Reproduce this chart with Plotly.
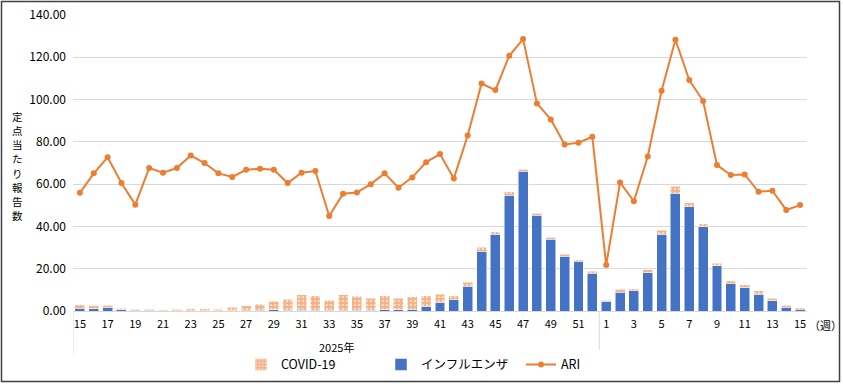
import plotly.graph_objects as go

weeks = [str(w) for w in range(15, 53)] + [str(w) for w in range(1, 16)]

influenza = [1.2, 1.0, 1.6, 0.6, 0.4, 0.3, 0.2, 0.2, 0.2, 0.2,
             0.2, 0.2, 0.3, 0.3, 0.6, 0.3, 0.3, 0.3, 0.3, 0.3,
             0.3, 0.3, 0.6, 0.6, 0.9, 2.0, 3.8, 5.4, 11.7, 28.2,
             36.2, 54.8, 66.0, 45.4, 34.0, 26.0, 23.5, 17.8,
             4.5, 8.8, 9.6, 18.0, 36.2, 55.8, 49.3, 39.8, 21.3, 12.8,
             10.9, 7.9, 4.9, 1.7, 0.9]

covid = [1.8, 1.4, 1.2, 0.8, 0.4, 0.6, 0.4, 0.7, 0.9, 0.9,
         0.7, 1.5, 2.3, 3.0, 4.0, 5.2, 7.3, 6.9, 4.9, 7.3,
         6.6, 5.7, 6.6, 5.5, 5.9, 5.1, 4.1, 1.8, 1.8, 1.9,
         1.4, 1.5, 1.1, 0.9, 0.8, 0.8, 0.8, 0.9,
         0.7, 1.4, 0.9, 1.4, 1.9, 3.2, 1.9, 1.5, 1.4, 1.5,
         1.5, 1.7, 1.2, 1.0, 0.7]

ari = [55.9, 65.1, 72.7, 60.5, 50.3, 67.6, 65.4, 67.6, 73.6, 70.0,
       65.1, 63.4, 66.8, 67.3, 66.8, 60.5, 65.4, 66.2, 44.9, 55.5,
       56.0, 60.0, 65.1, 58.3, 63.2, 70.4, 74.2, 62.7, 83.0, 107.6,
       104.5, 120.7, 128.6, 98.2, 90.6, 78.8, 79.6, 82.4,
       21.7, 60.8, 51.9, 73.1, 104.2, 128.3, 109.2, 99.3, 69.0, 64.3,
       64.6, 56.4, 56.9, 47.8, 50.1]

yticks = [0, 20, 40, 60, 80, 100, 120, 140]
n_2025 = 38  # weeks 15..52 of 2025

x = list(range(len(weeks)))
FONT = "Noto Sans CJK JP"

fig = go.Figure()
fig.add_trace(go.Bar(
    x=x, y=influenza, name="インフルエンザ", legendrank=2,
    marker=dict(color="#4472C4", line=dict(color="#ffffff", width=0.5)),
))
fig.add_trace(go.Bar(
    x=x, y=covid, name="COVID-19", legendrank=1,
    marker=dict(color="#F4B183", line=dict(color="#ffffff", width=0.5),
                pattern=dict(shape=".", fgcolor="#ffffff", bgcolor="#F4B183",
                             size=4, solidity=0.35)),
))
fig.add_trace(go.Scatter(
    x=x, y=ari, name="ARI", mode="lines+markers", legendrank=3,
    line=dict(color="#ED7D31", width=2),
    marker=dict(color="#ED7D31", size=6),
))

fig.update_layout(
    width=843, height=384,
    margin=dict(l=73, r=36, t=15, b=73, autoexpand=False),
    barmode="stack", bargap=0.28,
    plot_bgcolor="white", paper_bgcolor="white",
    font=dict(family=FONT, size=11, color="#000000"),
    legend=dict(orientation="h", xref="container", yref="container",
                x=0.535, xanchor="center", y=0.05, yanchor="middle",
                entrywidth=95, traceorder="normal",
                font=dict(size=12.5, family=FONT)),
    showlegend=True,
)

fig.update_xaxes(
    automargin=False,
    range=[-0.5, len(weeks) - 0.5],
    tickmode="array", tickvals=x[::2], ticktext=weeks[::2],
    showgrid=False, showline=True, linecolor="#d9d9d9", linewidth=1,
    ticks="", tickfont=dict(size=11, family=FONT), ticklabelstandoff=3,
)
fig.update_yaxes(
    automargin=False,
    range=[0, 140], tickvals=yticks, tickformat=".2f",
    showgrid=True, gridcolor="#d9d9d9", gridwidth=1,
    zeroline=False, showline=False, ticks="",
    tickfont=dict(size=12, family=FONT), ticklabelstandoff=6,
)

# y-axis title as upright stacked characters (one annotation per character)
title = "定点当たり報告数"
step = 14.2 / 296  # pixel spacing in paper units
y_center = 0.49
for i, ch in enumerate(title):
    fig.add_annotation(text=ch, xref="paper", yref="paper",
                       x=-0.075, y=y_center + (len(title) / 2 - 0.5 - i) * step,
                       xanchor="center", yanchor="middle",
                       showarrow=False, font=dict(size=10.5, family=FONT))
fig.add_annotation(text="2025年", xref="x", yref="paper",
                   x=(n_2025 - 1) / 2, y=-0.12, yanchor="middle",
                   showarrow=False, font=dict(size=11, family=FONT))
fig.add_annotation(text="（週）", xref="paper", yref="paper",
                   x=1.0, y=-0.047, xanchor="left", yanchor="middle",
                   showarrow=False, font=dict(size=11, family=FONT))

# group separators
for xv in [-0.5, n_2025 - 0.5]:
    fig.add_shape(type="line", xref="x", yref="paper", x0=xv, x1=xv,
                  y0=0, y1=-0.15, line=dict(color="#d9d9d9", width=1))
# outer border
fig.add_shape(type="rect", xref="paper", yref="paper",
              x0=(1.5 - 73) / 734, x1=(839.5 - 73) / 734,
              y0=(311 - 381.5) / 296, y1=(311 - 1.5) / 296,
              line=dict(color="#404040", width=1.5))

fig.write_html("out.html",
               config={"displayModeBar": False},
               post_script="document.body.style.margin='0';"
                           "document.body.style.overflow='hidden';")
